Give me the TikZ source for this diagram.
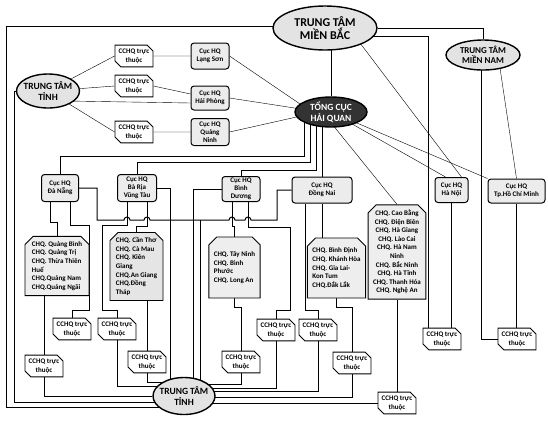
\documentclass[tikz,border=0pt]{standalone}
\usepackage{fontspec}
\setmainfont{Carlito}
\usetikzlibrary{shapes.geometric,shapes.misc,backgrounds,calc}
\tikzset{
  hub/.style={ellipse, draw, line width=1.4pt, fill=gray!22, inner sep=0pt},
  hubt/.style={align=center, inner sep=0pt},
  cuc/.style={rectangle, rounded corners=3pt, draw, line width=1pt, fill=gray!15, align=center,
    font=\fontsize{7}{8}\selectfont\bfseries, inner sep=0.5pt},
  cc/.style={chamfered rectangle, chamfered rectangle corners={north east,south west},
    chamfered rectangle sep=3pt, draw, line width=0.9pt, fill=white, align=center,
    font=\fontsize{7}{9}\selectfont\bfseries, inner sep=0.5pt, minimum width=38pt, minimum height=21pt},
  chq/.style={chamfered rectangle, chamfered rectangle corners={north west,north east},
    chamfered rectangle sep=4pt, draw, line width=0.9pt, fill=gray!13, align=left,
    font=\fontsize{7}{8.6}\selectfont\bfseries, inner sep=1pt},
  conn/.style={line width=0.8pt}
}
\begin{document}
\begin{tikzpicture}[x=1pt,y=-1pt]
\useasboundingbox (0,0) rectangle (548,432);
% hubs
\node[hub, minimum width=104pt, minimum height=44pt,
  label={[hubt, font=\fontsize{12}{13.5}\selectfont\bfseries]center:TRUNG TÂM\\MIỀN BẮC}] (mb) at (325,28) {};
\node[hub, minimum width=74pt, minimum height=30pt,
  label={[hubt, font=\fontsize{9}{10.5}\selectfont\bfseries]center:TRUNG TÂM\\MIỀN NAM}] (mn) at (483,55) {};
\node[hub, fill=black!80, minimum width=72pt, minimum height=30pt,
  label={[hubt, text=white, font=\fontsize{9.5}{10.5}\selectfont\bfseries]center:TỔNG CỤC\\HẢI QUAN}] (tc) at (331,112) {};
\node[hub, minimum width=63pt, minimum height=34pt,
  label={[hubt, font=\fontsize{9.5}{11}\selectfont\bfseries]center:TRUNG TÂM\\TỈNH}] (ttl) at (48,91) {};
\node[hub, minimum width=62pt, minimum height=37pt,
  label={[hubt, font=\fontsize{9.5}{11}\selectfont\bfseries]center:TRUNG TÂM\\TỈNH}] (ttb) at (184,396) {};
% Cuc HQ
\node[cuc, minimum width=38pt, minimum height=26pt] (ls) at (210,56) {Cục HQ\\Lạng Sơn};
\node[cuc, minimum width=38pt, minimum height=24pt] (hp) at (210,98) {Cục HQ\\Hải Phòng};
\node[cuc, minimum width=38pt, minimum height=27pt] (qn) at (210,132) {Cục HQ\\Quảng\\Ninh};
\node[cuc, minimum width=37pt, minimum height=27pt] (dn) at (60,188) {Cục HQ\\Đà Nẵng};
\node[cuc, minimum width=39pt, minimum height=27pt] (br) at (137,188) {Cục HQ\\Bà Rịa\\Vũng Tàu};
\node[cuc, minimum width=38pt, minimum height=25pt] (bd) at (241,189) {Cục HQ\\Bình\\Dương};
\node[cuc, minimum width=60pt, minimum height=26pt] (dg) at (322,190) {Cục HQ\\Đồng Nai};
\node[cuc, minimum width=33pt, minimum height=25pt] (hn) at (451.5,190) {Cục HQ\\Hà Nội};
\node[cuc, minimum width=57pt, minimum height=24pt] (hcm) at (516.5,191) {Cục HQ\\Tp.Hồ Chí Minh};
% CCHQ
\node[cc] (a1) at (134,56) {CCHQ trực\\thuộc};
\node[cc] (a2) at (134,86) {CCHQ trực\\thuộc};
\node[cc] (a3) at (134,132) {CCHQ trực\\thuộc};
\node[cc] (b1) at (72,329) {CCHQ trực\\thuộc};
\node[cc] (b2) at (117,329) {CCHQ trực\\thuộc};
\node[cc] (b3) at (44,366) {CCHQ trực\\thuộc};
\node[cc] (b4) at (147,362) {CCHQ trực\\thuộc};
\node[cc] (b5) at (241,362) {CCHQ trực\\thuộc};
\node[cc] (b6) at (276,330) {CCHQ trực\\thuộc};
\node[cc] (b7) at (318,330) {CCHQ trực\\thuộc};
\node[cc] (b8) at (352,363) {CCHQ trực\\thuộc};
\node[cc] (b9) at (397,403) {CCHQ trực\\thuộc};
\node[cc] (b10) at (442,339) {CCHQ trực\\thuộc};
\node[cc] (b11) at (517,339) {CCHQ trực\\thuộc};
% CHQ lists
\node[chq, minimum width=64pt, minimum height=58pt] (l1) at (57,266)
  {CHQ. Quảng Bình\\CHQ. Quảng Trị\\CHQ. Thừa Thiên\\Huế\\CHQ.Quảng Nam\\CHQ.Quảng Ngãi};
\node[chq, fill=gray!20, minimum width=53pt, minimum height=61pt] (l2) at (136.5,266.5)
  {CHQ. Cần Thơ\\CHQ. Cà Mau\\CHQ. Kiên\\Giang\\CHQ.An Giang\\CHQ.Đồng\\Tháp};
\node[chq, minimum width=49pt, minimum height=61pt] (l3) at (234.5,267.5)
  {CHQ. Tây Ninh\\CHQ. Bình\\Phước\\CHQ. Long An};
\node[chq, minimum width=53pt, minimum height=60pt] (l4) at (336.5,268)
  {CHQ. Bình Định\\CHQ. Khánh Hòa\\CHQ. Gia Lai-\\Kon Tum\\CHQ.Đắk Lắk};
\node[chq, align=center, minimum width=56pt, minimum height=92pt] (l5) at (397,252)
  {CHQ. Cao Bằng\\CHQ. Điện Biên\\CHQ. Hà Giang\\CHQ. Lào Cai\\CHQ. Hà Nam\\Ninh\\CHQ. Bắc Ninh\\CHQ. Hà Tĩnh\\CHQ. Thanh Hóa\\CHQ. Nghệ An};
\coordinate (j1) at (200,220);
\begin{scope}[on background layer, conn]
\fill[white] (0,0) rectangle (548,432);
% top left cluster
\draw (ttl) -- (a1.west);
\draw (ttl) -- (a2.west);
\draw ($(ttl)+(20,10)$) -- ($(hp.west)+(0,5)$);
\draw (ttl) -- (a3.west);
\draw (a1) -- (ls);
\draw (a2.east) -- ($(hp.west)+(0,-4)$);
\draw (a3) -- (qn);
\draw (ls.east) -- ($(tc)+(-28,-6)$);
\draw (hp.east) -- ($(tc)+(-30,-3)$);
\draw (qn.east) -- ($(tc)+(-30,4)$);
\draw (tc) -- (tc |- mb);
\draw ($(mb)+(0,-2)$) -| (6,407) -- (ttb |- 0,407);
\draw (ttl) -| (14,402) -- (ttb |- 0,402);
% Tong cuc to row
\draw ($(tc)+(-27,0)$) |- (dn.north |- 0,156) -- (dn.north);
\draw ($(tc)+(-21,0)$) |- (br.north |- 0,162) -- (br.north);
\draw ($(tc)+(-15,0)$) |- (bd.north |- 0,170) -- (bd.north);
\draw (tc -| dg.north) -- (dg.north);
\draw (tc) -- ($(hn.north)+(-6,0)$);
\draw (tc) -- (hcm.north west);
\draw ($(tc)+(1,12)$) -- (l5.north);
\draw ($(mb)+(35,15)$) -- ($(hn.north)+(10,0)$);
\draw ($(mb)+(45,8)$) -| ($(b10.north)+(-14,0)$);
\draw (mb.east) -| (mn.north);
\draw ($(mn)+(17,13)$) -- (hcm.north);
\draw ($(mn)+(-2,0)$) |- (b11.west);
\draw (hn.south) -- (hn.south |- b10.north);
\draw (hcm.south) -- (hcm.south |- b11.north);
\draw (l5.south) -- (b9.north);
% row 2 wiring
\draw (bd.west) -| ($(ttb)+(9,0)$);
\draw[line width=1pt] (dn.east) -| (97,220) -- (124,220) arc[start angle=180, end angle=360, radius=3]
  -- (144,220) arc[start angle=180, end angle=360, radius=3]
  -- (229,220) arc[start angle=180, end angle=360, radius=3]
  -- (245,220) arc[start angle=180, end angle=360, radius=3]
  -| (277,190) -- (dg.west);
\draw (j1) -- ($(ttb)+(16,0)$);
\draw (br.east) -| ($(ttb)+(-14,0)$);
\draw (br.south -| 127,0) |- (102,225) |- (b2.north |- 0,310) -- (b2.north);
\draw (br.south -| 147,0) |- (l2.north |- 0,226) -- (l2.north);
\draw (dn.south -| 50,0) |- (l1.north |- 0,222) -- (l1.north);
\draw (dn.south -| 70,0) |- (89,225) |- (b1.north |- 0,310) -- (b1.north);
\draw (l1.south -| b3.north) -- (b3.north);
\draw (b3.south) |- (ttb);
\draw (b2.south) |- (ttb.center |- 0,386);
\draw (l2.south -| b4.north) -- (b4.north);
\draw (b4.south) |- (ttb.center |- 0,382);
\draw (bd.south -| 232,0) |- (l3.north |- 0,226) -- (l3.north);
\draw (bd.south -| 248,0) |- (290,227) |- (b6.north |- 0,310) -- (b6.north);
\draw (l3.south) |- (b5.north |- 0,307) -- (b5.north);
\draw (b5.south) |- (ttb.center |- 0,384);
\draw (b6.south) |- (ttb.center |- 0,388);
\draw (dg.south -| 305,0) |- (b7.north |- 0,310) -- (b7.north);
\draw (dg.south) -- (dg.south |- l4.north);
\draw (l4.south) |- (b8.north |- 0,307) -- (b8.north);
\draw (b7.south) |- (ttb.center |- 0,391);
\draw (b8.south) |- (ttb.center |- 0,397);
\draw (b9.west) -- (ttb.center |- b9.west);
\end{scope}
\end{tikzpicture}
\end{document}
